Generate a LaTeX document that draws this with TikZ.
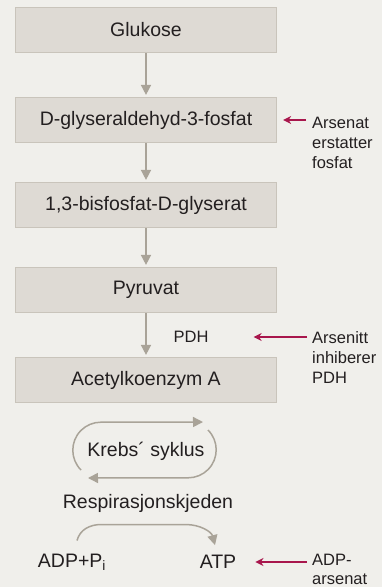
\documentclass[tikz,border=0pt]{standalone}
\usepackage{fontspec}
\setmainfont{Liberation Sans}
\usetikzlibrary{arrows.meta,positioning,calc}
\definecolor{bgcol}{HTML}{F0EFEB}
\definecolor{boxfill}{HTML}{DEDAD4}
\definecolor{boxline}{HTML}{C9C4BB}
\definecolor{arrgray}{HTML}{A9A398}
\definecolor{arsred}{HTML}{A8164C}
\definecolor{ink}{HTML}{231F20}

\begin{document}
\begin{tikzpicture}[x=1pt, y=1pt,
    box/.style={draw=boxline, line width=1.2pt, fill=boxfill, minimum width=261pt, minimum height=45pt, font=\fontsize{19.5}{23}\selectfont, text=ink},
    lbl/.style={font=\fontsize{19.5}{23}\selectfont, text=ink, inner sep=2pt},
    side/.style={font=\fontsize{16.5}{20}\selectfont, text=ink, align=left, anchor=west, inner sep=0pt},
    arr/.style={-{Triangle[length=10pt,width=10pt]}, draw=arrgray, line width=1.5pt, shorten >=2pt},
    redarr/.style={-{Stealth[length=8pt,width=8pt,inset=2.5pt]}, draw=arsred, line width=1.5pt}
]
\fill[bgcol] (0,0) rectangle (382,-587);
\useasboundingbox (0,0) rectangle (382,-587);

\node[box] (glu) at (146,-30) {Glukose};
\node[box] (gly) at (146,-120) {D-glyseraldehyd-3-fosfat};
\node[box] (bis) at (146,-205) {1,3-bisfosfat-D-glyserat};
\node[box] (pyr) at (146,-290) {Pyruvat};
\node[box] (ace) at (146,-380) {Acetylkoenzym A};
\node[lbl, font=\fontsize{16.5}{20}\selectfont] (pdh) at (191,-337) {PDH};
\node[lbl] (krebs) at (146,-451) {Krebs´ syklus};
\node[lbl] (resp) at (148,-503) {Respirasjonskjeden};
\node[lbl] (adp) at (72,-562) {ADP+P\textsubscript{i}};
\node[lbl] (atp) at (218,-562) {ATP};

\node[side] (arsenat) at (312,-143) {Arsenat\\erstatter\\fosfat};
\node[side] (arsenitt) at (312,-358) {Arsenitt\\inhiberer\\PDH};
\node[side, font=\fontsize{16.5}{19}\selectfont] (adpars) at (312,-569) {ADP-\\arsenat};

\draw[arr] (glu) -- (gly);
\draw[arr] (gly) -- (bis);
\draw[arr] (bis) -- (pyr);
\draw[arr] (pyr) -- (ace);

\draw[arr, shorten >=0pt] (81,-470) arc[start angle=225, end angle=90, radius=28] -- (203,-422);
\draw[arr, shorten >=0pt] (208,-430) arc[start angle=45, end angle=-90, radius=28] -- (88,-478);
\draw[arr, shorten >=0pt] ([shift={(5,11)}]adp.north) to[out=75,in=180] ++(24,16) -- ++(85,0) to[out=0,in=105] ([shift={(-3,8)}]atp.north);

\draw[redarr] ([xshift=-6pt]arsenat.west |- gly.east) -- ([xshift=6pt]gly.east);
\draw[redarr] ([xshift=-5pt]arsenitt.west |- pdh.east) -- ([xshift=43pt]pdh.east);
\draw[redarr] ([xshift=-5pt]adpars.west |- atp.east) -- ([xshift=17pt]atp.east);
\end{tikzpicture}
\end{document}
